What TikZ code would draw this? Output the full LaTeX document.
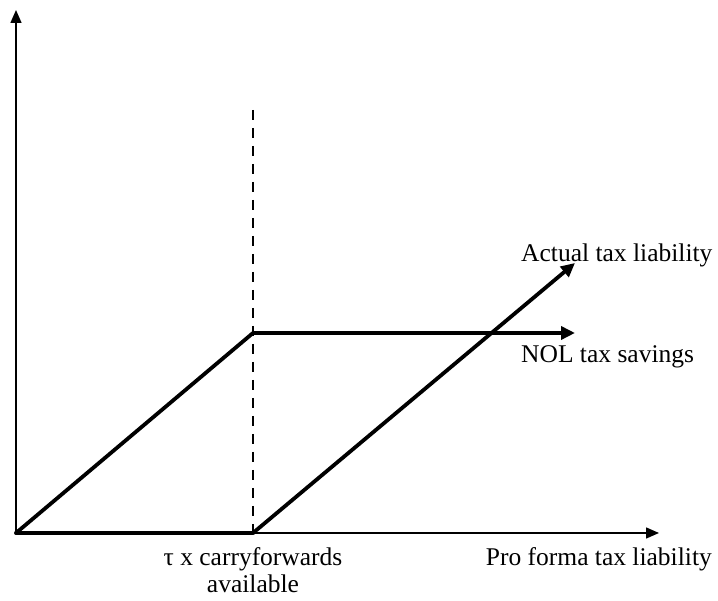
\documentclass[tikz,border=0pt]{standalone}
\usepackage{fontspec}
\setmainfont{Liberation Serif}
\usetikzlibrary{arrows.meta}
\begin{document}
\begin{tikzpicture}[x=1pt,y=1pt,
  axis/.style={line width=1.5pt,-{Triangle[length=13pt,width=11pt]}},
  thickline/.style={line width=3.8pt},
  thickarrow/.style={line width=3.8pt,-{Triangle[length=14pt,width=13pt]}},
  dashline/.style={line width=2.6pt,dash pattern=on 10pt off 8pt},
  lbl/.style={font=\fontsize{25.5}{27}\selectfont,inner sep=0pt}]
\useasboundingbox (0,0) rectangle (718,601);
\coordinate (O) at (16,68);
\coordinate (Ytop) at (16,591);
\coordinate (Xend) at (659,68);
\coordinate (K) at (253,68);
\coordinate (Kup) at (253,268);
\coordinate (Dtop) at (253,491);
\coordinate (Nend) at (575,268);
\coordinate (Aend) at (575,338);
% axes
\draw[axis] (O) -- (Ytop);
\draw[axis] (O) -- (Xend);
% dashed
\draw[dashline] (Dtop) -- (K);
% thick lines
\draw[thickline,line cap=round] (O) -- (K);
\draw[thickline,line cap=round] (O) -- (Kup);
\draw[thickarrow] (Kup) -- (Nend);
\draw[thickarrow] (K) -- (Aend);
% labels
\node[lbl,anchor=base west] (actual) at (521,339) {Actual tax liability};
\node[lbl,anchor=base west] (nol) at (521,238) {NOL tax savings};
\node[lbl,anchor=base east] (proforma) at (712,35) {Pro forma tax liability};
\node[lbl,anchor=base] (tau1) at (253,35) {τ x carryforwards};
\node[lbl,anchor=base] (tau2) at (253,8) {available};
\end{tikzpicture}
\end{document}
